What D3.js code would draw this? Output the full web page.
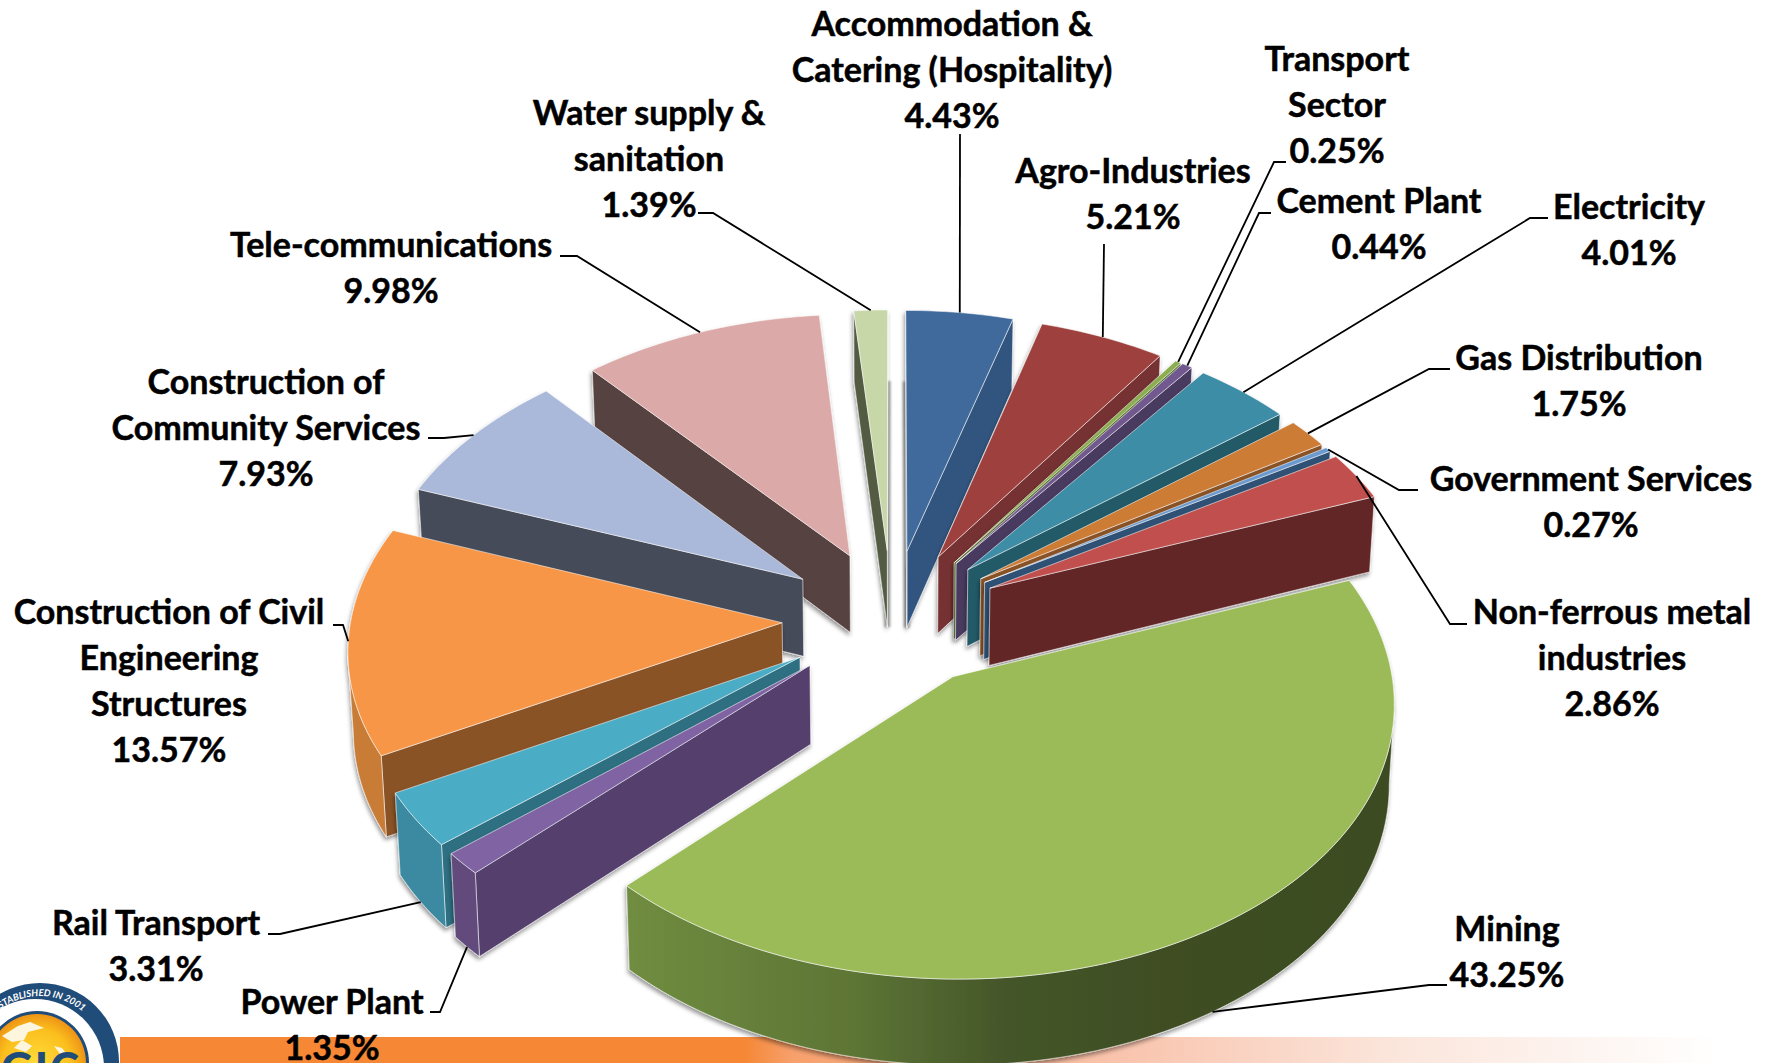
<!DOCTYPE html>
<html>
<head>
<meta charset="utf-8">
<script src="https://d3js.org/d3.v7.min.js"></script>
<style>
html,body{margin:0;padding:0;background:#fff;overflow:hidden}
svg{display:block}
text{font-family:Lato,"Open Sans",sans-serif}
</style>
</head>
<body>
<svg id="chart" width="1775" height="1063"></svg>
<script>
// Sector names, one entry per line of the label
const sectorLabels = [
  ["Accommodation &", "Catering (Hospitality)"],
  ["Agro-Industries"],
  ["Transport", "Sector"],
  ["Cement Plant"],
  ["Electricity"],
  ["Gas Distribution"],
  ["Government Services"],
  ["Non-ferrous metal", "industries"],
  ["Mining"],
  ["Power Plant"],
  ["Rail Transport"],
  ["Construction of Civil", "Engineering", "Structures"],
  ["Construction of", "Community Services"],
  ["Tele-communications"],
  ["Water supply &", "sanitation"]
];
// Share of each sector, percent
const sectorShares = [4.43, 5.21, 0.25, 0.44, 4.01, 1.75, 0.27, 2.86, 43.25, 1.35, 3.31, 13.57, 7.93, 9.98, 1.39];
const topColours = ["#3f6a9c", "#9e413e", "#8cae51", "#71588f", "#3c8da6", "#cc7b36", "#6a9ad0", "#c0504d", "#9bbb59", "#8064a2", "#4bacc6", "#f79646", "#aab9d9", "#dba9a8", "#c7d7a8"];
const wallColours = ["#32557f", "#763130", "#5f7a35", "#4a3a61", "#235a67", "#8a5226", "#2f5175", "#622726", "#5c7434", "#543f6d", "#2f6f82", "#8a5226", "#454b58", "#57423f", "#525c42"];
const rimColours = ["#32557f", "#763130", "#5f7a35", "#4a3a61", "#235a67", "#8a5226", "#2f5175", "#622726", "url(#miningRim)", "#624c7c", "#3a8aa1", "#c97c36", "#454b58", "#57423f", "#525c42"];

// Label placement: centre of the first text line
const labelAnchors = [[952, 24], [1133, 171], [1337, 59], [1379, 201], [1629, 207], [1579, 358], [1591, 479], [1612, 612], [1507, 929], [332, 1002], [156, 923], [169, 612], [266, 382], [391, 245], [649, 113]];
// Leader lines: the points between the text and the slice
const leaderRoutes = [
  [[960, 134]], [[1104, 244]], [[1286, 162], [1274, 162]], [[1271, 213], [1259, 213]],
  [[1548, 218], [1530, 218]], [[1450, 369], [1429, 369]], [[1418, 490], [1399, 490]], [[1467, 624], [1450, 624]],
  [[1447, 985], [1429, 985]], [[430, 1012], [440, 1012]], [[268, 934], [280, 934]], [[333, 625], [343, 625]],
  [[428, 438], [444, 438]], [[560, 256], [577, 256]], [[698, 213], [713, 213]]
];
// Leaders that reach the lower rim of the slice rather than its top edge
const leaderOnRim = [8, 9, 10];

// Pie geometry
const centre = {x: 892, y: 618};
const radius = 431, explode = 110, depth = 78, tilt = 0.625;
const perspX = 0.0002, perspY = 0.00018;

// Ground plane (u across, v towards the viewer) to screen
function project(u, v, lower) {
  const sx = 1 / (1 - perspX * v), sy = 1 / (1 - perspY * v);
  let x = centre.x + u * sx;
  let y = centre.y + tilt * v * sy;
  if (lower) {
    x = centre.x + (x - centre.x) * 0.99;
    y += depth * sy;
  }
  return [x, y];
}

const svg = d3.select("#chart");
const defs = svg.append("defs");

const shadow = defs.append("filter").attr("id", "softShadow")
  .attr("x", "-15%").attr("y", "-15%").attr("width", "130%").attr("height", "130%");
shadow.append("feDropShadow").attr("dx", -1).attr("dy", 3).attr("stdDeviation", 2.2)
  .attr("flood-color", "#000").attr("flood-opacity", 0.42);
defs.append("filter").attr("id", "seamBlur").attr("filterUnits", "userSpaceOnUse")
  .attr("x", 0).attr("y", 0).attr("width", 1775).attr("height", 1063)
  .append("feGaussianBlur").attr("stdDeviation", 1);

const rim = defs.append("linearGradient").attr("id", "miningRim").attr("gradientUnits", "userSpaceOnUse")
  .attr("x1", 625).attr("x2", 1390).attr("y1", 0).attr("y2", 0);
[[0, "#708d40"], [0.3, "#5d7535"], [0.5, "#445529"], [0.7, "#3f4e24"], [1, "#3d4c22"]]
  .forEach(([o, c]) => rim.append("stop").attr("offset", o).attr("stop-color", c));

const band = defs.append("linearGradient").attr("id", "bandFill").attr("gradientUnits", "userSpaceOnUse")
  .attr("x1", 120).attr("x2", 1720).attr("y1", 0).attr("y2", 0);
[[0, "#f58735"], [0.39, "#f58735"], [0.42, "#f7a06c"], [0.62, "#f9c3ac"], [0.8, "#fbe6dc"], [1, "#ffffff"]]
  .forEach(([o, c]) => band.append("stop").attr("offset", o).attr("stop-color", c));

const gold = defs.append("radialGradient").attr("id", "globeFill");
[[0, "#ffdc3a"], [0.7, "#fbbf1d"], [1, "#ee9416"]]
  .forEach(([o, c]) => gold.append("stop").attr("offset", o).attr("stop-color", c));

// Footer band and emblem sit behind the chart
svg.append("rect").attr("x", 120).attr("y", 1037).attr("width", 1655).attr("height", 26).attr("fill", "url(#bandFill)");

const emblem = svg.append("g");
emblem.append("circle").attr("cx", 40).attr("cy", 1062).attr("r", 79).attr("fill", "#1f4c78");
emblem.append("circle").attr("cx", 35).attr("cy", 1068).attr("r", 69).attr("fill", "#fff");
emblem.append("circle").attr("cx", 37).attr("cy", 1063).attr("r", 52).attr("fill", "#1f4c78");
emblem.append("circle").attr("cx", 37).attr("cy", 1063).attr("r", 49).attr("fill", "url(#globeFill)");
emblem.selectAll("path.land").data([
  "M2 1036 L18 1026 L30 1022 L44 1028 L28 1032 L24 1040 L12 1042 Z",
  "M14 1048 L22 1040 L32 1046 L26 1052 Z",
  "M54 1046 L62 1048 L68 1056 L60 1054 Z"
]).join("path").attr("class", "land").attr("d", d => d).attr("fill", "#fdf6df");
const arcPath = d3.path();
arcPath.arc(40, 1062, 66, -170 * Math.PI / 180, -50 * Math.PI / 180);
defs.append("path").attr("id", "emblemArc").attr("d", arcPath.toString());
emblem.append("text").attr("font-size", 9.5).attr("font-weight", 700).attr("font-style", "italic")
  .attr("fill", "#fff").attr("letter-spacing", 0)
  .append("textPath").attr("href", "#emblemArc").attr("startOffset", "100%").attr("text-anchor", "end")
  .text("ESTABLISHED IN 2001");
emblem.append("text").attr("x", 41).attr("y", 1084).attr("text-anchor", "middle")
  .attr("font-size", 44).attr("font-weight", 900).attr("letter-spacing", 2).attr("fill", "#1f4c78").text("GIC");

// Angles come straight from the shares, clockwise from twelve o'clock
const pie = d3.pie().sort(null).value(d => d).startAngle(0).endAngle(2 * Math.PI);
const arcs = pie(sectorShares).map((a, i) => {
  const mid = (a.startAngle + a.endAngle) / 2;
  return {
    index: i, start: a.startAngle, end: a.endAngle, mid,
    ox: explode * Math.sin(mid), oy: -explode * Math.cos(mid)
  };
});
const toLine = d3.line();

function rimPoint(s, angle, r, lower) {
  return project(s.ox + r * Math.sin(angle), s.oy - r * Math.cos(angle), lower);
}
function arcSamples(s) {
  const n = Math.max(2, Math.ceil((s.end - s.start) / 0.02));
  return d3.range(n + 1).map(j => s.start + (s.end - s.start) * j / n);
}

// Shadows along the two walls seen edge-on at twelve o'clock
[arcs[arcs.length - 1], arcs[0]].forEach(s => {
  svg.append("path")
    .attr("d", toLine([rimPoint(s, 0, radius, true), rimPoint(s, 0, 0, true)]))
    .attr("stroke", "#a9a9a9").attr("stroke-width", 6).attr("fill", "none").attr("filter", "url(#seamBlur)");
});

// Far slices first so nearer ones overlap them
const drawOrder = arcs.slice().sort((a, b) => Math.cos(b.mid) - Math.cos(a.mid));
const edge = {stroke: "rgba(255,255,255,0.6)", width: 0.9};

drawOrder.forEach(s => {
  const i = s.index;
  const g = svg.append("g").attr("class", "slice").attr("filter", "url(#softShadow)");
  const samples = arcSamples(s);
  const apexTop = rimPoint(s, 0, 0, false), apexLow = rimPoint(s, 0, 0, true);

  // Radial walls: winding on screen tells which of the two faces the viewer
  [[s.end, -1], [s.start, 1]].forEach(([angle, sign]) => {
    const outerTop = rimPoint(s, angle, radius, false), outerLow = rimPoint(s, angle, radius, true);
    const quad = [apexTop, outerTop, outerLow, apexLow];
    if (d3.polygonArea(quad) * sign < 0) return;
    g.append("path").attr("d", toLine(quad) + "Z")
      .attr("fill", wallColours[i]).attr("stroke", edge.stroke).attr("stroke-width", edge.width);
  });

  // Outer rim, only where it turns towards the viewer
  const facing = samples.filter((a, j) => {
    const here = rimPoint(s, a, radius, false)[0];
    const next = j < samples.length - 1 ? rimPoint(s, samples[j + 1], radius, false)[0] : here;
    const prev = j > 0 ? rimPoint(s, samples[j - 1], radius, false)[0] : here;
    return next < here || prev > here;
  });
  if (facing.length > 1) {
    const upper = facing.map(a => rimPoint(s, a, radius, false));
    const lower = facing.map(a => rimPoint(s, a, radius, true)).reverse();
    g.append("path").attr("d", toLine(upper.concat(lower)) + "Z")
      .attr("fill", rimColours[i]).attr("stroke", edge.stroke).attr("stroke-width", edge.width);
  }

  // Top face
  const top = [apexTop].concat(samples.map(a => rimPoint(s, a, radius, false)));
  g.append("path").attr("d", toLine(top) + "Z")
    .attr("fill", topColours[i]).attr("stroke", edge.stroke).attr("stroke-width", edge.width);
});

// Leader lines end on the middle of each slice's arc
arcs.forEach(s => {
  const end = rimPoint(s, s.mid, radius, leaderOnRim.includes(s.index));
  svg.append("path").attr("class", "leader")
    .attr("d", toLine(leaderRoutes[s.index].concat([end])))
    .attr("fill", "none").attr("stroke", "#000").attr("stroke-width", 1.8);
});

// Labels: sector name lines followed by the share
const lineStep = 46;
const shareFormat = d => d3.format(".2f")(d) + "%";
arcs.forEach(s => {
  const [lx, ly] = labelAnchors[s.index];
  const lines = sectorLabels[s.index].concat(shareFormat(sectorShares[s.index]));
  lines.forEach((t, j) => {
    svg.append("text").attr("x", lx).attr("y", ly + j * lineStep + 12)
      .attr("text-anchor", "middle").attr("font-size", 34).attr("font-weight", 700)
      .attr("fill", "#000").attr("stroke", "#000").attr("stroke-width", 0.5).text(t);
  });
});
</script>
</body>
</html>
